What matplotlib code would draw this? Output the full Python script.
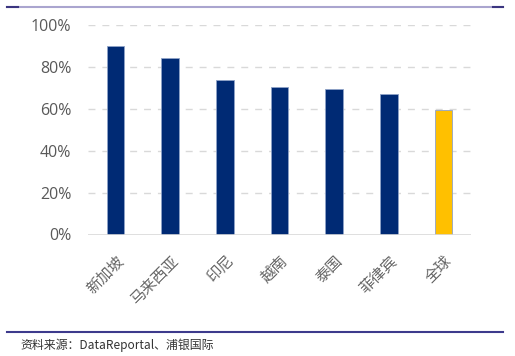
import numpy as np
import matplotlib.pyplot as plt

plt.rcParams['font.family'] = ['Noto Sans CJK SC', 'DejaVu Sans']

countries = ["新加坡", "马来西亚", "印尼", "越南", "泰国", "菲律宾", "全球"]
shares = [0.902, 0.843, 0.738, 0.702, 0.695, 0.669, 0.596]
bar_colors = ["#002a74"] * 6 + ["#ffc000"]
yticks = [0, 0.2, 0.4, 0.6, 0.8, 1.0]
ytick_labels = ["0%", "20%", "40%", "60%", "80%", "100%"]
source = "资料来源：DataReportal、浦银国际"


def draw():
    fig = plt.figure(figsize=(5.15, 3.56), dpi=100)
    ax = fig.add_axes([88 / 515, 1 - 234.5 / 356, 383 / 515, 209.5 / 356])

    x = np.arange(len(countries))
    ax.bar(x, shares, width=0.32, color=bar_colors, edgecolor="#8fa3c8",
           linewidth=0.6, zorder=3)

    ax.set_xlim(-0.5, len(countries) - 0.5)
    ax.set_ylim(0, 1.0)
    ax.set_yticks(yticks)
    ax.set_yticklabels(ytick_labels, fontsize=11.5, color="#595959",
                       family=["Open Sans", "DejaVu Sans"])
    ax.set_xticks(x)
    ax.set_xticklabels(countries, rotation=45, ha="right", rotation_mode="anchor",
                       fontsize=11, color="#666666")
    ax.tick_params(axis="x", length=0, pad=13)
    ax.tick_params(axis="y", length=0, pad=12)

    for y in yticks[1:]:
        ax.axhline(y, color="#d9d9d9", linewidth=1, linestyle=(0, (5, 5)), zorder=1)
    ax.axhline(0, color="#d9d9d9", linewidth=1.2, zorder=4)

    for s in ax.spines.values():
        s.set_visible(False)

    # header / footer rules
    fig.add_artist(plt.Line2D([7 / 515, 503 / 515], [1 - 6.5 / 356] * 2,
                              color="#aaa5cf", linewidth=1.5))
    fig.add_artist(plt.Line2D([7 / 515, 18 / 515], [1 - 6.5 / 356] * 2,
                              color="#3b3580", linewidth=1.5))
    fig.add_artist(plt.Line2D([493 / 515, 503 / 515], [1 - 6.5 / 356] * 2,
                              color="#3b3580", linewidth=1.5))
    fig.add_artist(plt.Line2D([7 / 515, 503 / 515], [1 - 331.5 / 356] * 2,
                              color="#3d3a8c", linewidth=1.5))

    fig.text(20 / 515, 1 - 345 / 356, source, fontsize=8.6, color="#333333",
             va="center", ha="left")

    fig.savefig("out.png", dpi=100)


if __name__ == "__main__":
    draw()
